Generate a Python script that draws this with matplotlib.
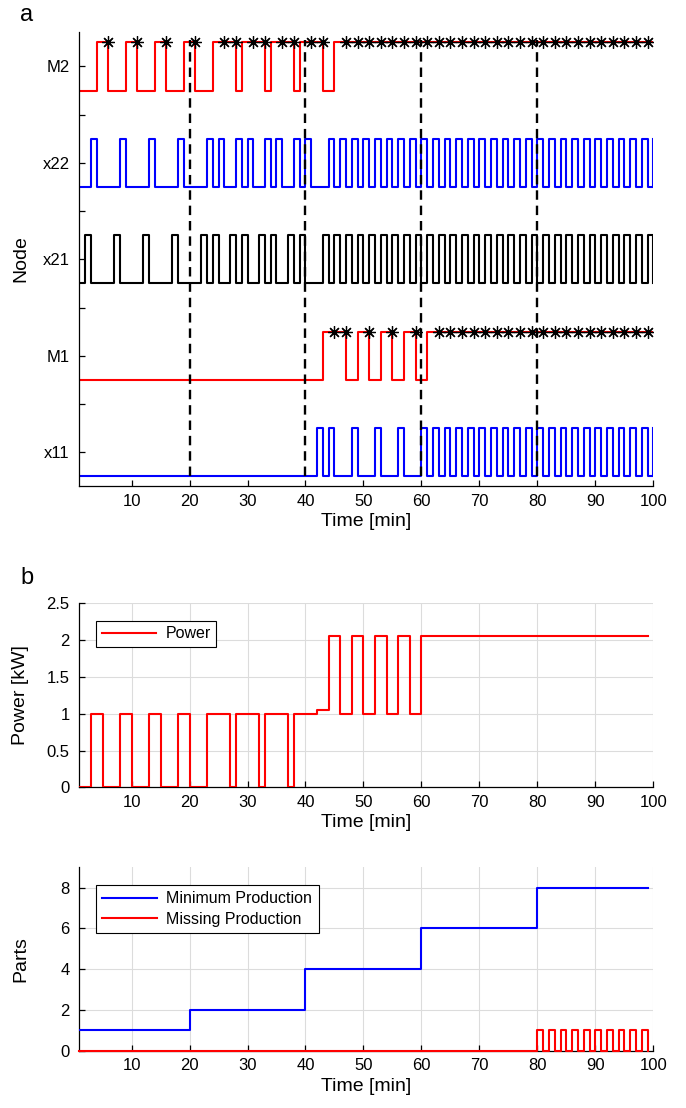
import matplotlib
matplotlib.use('Agg')
import matplotlib.pyplot as plt
import numpy as np

plt.rcParams['font.family'] = ['Liberation Sans', 'DejaVu Sans']

# ---------------- data ----------------
t_nodes = list(range(1, 101))
node_labels = ['x11', 'M1', 'x21', 'x22', 'M2']
node_colors = ['#0000ff', '#ff0000', '#000000', '#0000ff', '#ff0000']

x11_on = [(42, 43), (44, 45), (48, 49), (52, 53), (56, 57), (60, 61), (62, 63), (64, 65),
          (66, 67), (68, 69), (70, 71), (72, 73), (74, 75), (76, 77), (78, 79), (80, 81),
          (82, 83), (84, 85), (86, 87), (88, 89), (90, 91), (92, 93), (94, 95), (96, 97),
          (98, 99), (100, 101)]
M1_on = [(43, 47), (49, 51), (53, 55), (57, 59), (61, 101)]
M1_done = [45, 47, 51, 55, 59, 63, 65, 67, 69, 71, 73, 75, 77, 79, 81, 83, 85, 87, 89,
           91, 93, 95, 97, 99]
x21_on = [(2, 3), (7, 8), (12, 13), (17, 18), (22, 23), (24, 25), (27, 28), (29, 30),
          (32, 33), (34, 35), (37, 38), (39, 40), (43, 44), (45, 46), (47, 48), (49, 50),
          (51, 52), (53, 54), (55, 56), (57, 58), (59, 60), (61, 62), (63, 64), (65, 66),
          (67, 68), (69, 70), (71, 72), (73, 74), (75, 76), (77, 78), (79, 80), (81, 82),
          (83, 84), (85, 86), (87, 88), (89, 90), (91, 92), (93, 94), (95, 96), (97, 98),
          (99, 100)]
x22_on = [(3, 4), (8, 9), (13, 14), (18, 19), (23, 24), (25, 26), (28, 29), (30, 31),
          (33, 34), (35, 36), (38, 39), (40, 41), (44, 45), (46, 47), (48, 49), (50, 51),
          (52, 53), (54, 55), (56, 57), (58, 59), (60, 61), (62, 63), (64, 65), (66, 67),
          (68, 69), (70, 71), (72, 73), (74, 75), (76, 77), (78, 79), (80, 81), (82, 83),
          (84, 85), (86, 87), (88, 89), (90, 91), (92, 93), (94, 95), (96, 97), (98, 99),
          (100, 101)]
M2_on = [(4, 6), (9, 11), (14, 16), (19, 21), (24, 28), (29, 33), (34, 38), (39, 43), (45, 101)]
M2_done = [6, 11, 16, 21, 26, 28, 31, 33, 36, 38, 41, 43, 47, 49, 51, 53, 55, 57, 59, 61,
           63, 65, 67, 69, 71, 73, 75, 77, 79, 81, 83, 85, 87, 89, 91, 93, 95, 97, 99]
period_marks = [20, 40, 60, 80]

t_plant = list(range(1, 100))
power_levels = [(3, 5, 1.0), (8, 10, 1.0), (13, 15, 1.0), (18, 20, 1.0), (23, 27, 1.0),
                (28, 32, 1.0), (33, 37, 1.0), (38, 42, 1.0), (42, 44, 1.05), (44, 46, 2.05),
                (46, 48, 1.0), (48, 50, 2.05), (50, 52, 1.0), (52, 54, 2.05), (54, 56, 1.0),
                (56, 58, 2.05), (58, 60, 1.0), (60, 100, 2.05)]
min_prod_levels = [(1, 20, 1), (20, 40, 2), (40, 60, 4), (60, 80, 6), (80, 100, 8)]
missing_on = [(80, 81), (82, 83), (84, 85), (86, 87), (88, 89), (90, 91), (92, 93),
              (94, 95), (96, 97), (98, 99)]

x_ticks = [10, 20, 30, 40, 50, 60, 70, 80, 90, 100]
power_ticks = [0, 0.5, 1, 1.5, 2, 2.5]
parts_ticks = [0, 2, 4, 6, 8]


def build(t, segments):
    t = np.asarray(t, dtype=float)
    y = np.zeros_like(t)
    for seg in segments:
        a, b = seg[0], seg[1]
        v = seg[2] if len(seg) > 2 else 1.0
        y[(t >= a) & (t < b)] = v
    return y


# ---------------- figure ----------------
fig = plt.figure(figsize=(6.86, 11.08), dpi=100)
L, W = 0.1157, 0.8367
ax1 = fig.add_axes([L, 0.5614, W, 0.41])
ax2 = fig.add_axes([L, 0.2894, W, 0.1661])
ax3 = fig.add_axes([L, 0.0517, W, 0.1655])

TICK_FS = 12
LAB_FS = 14
LEG_FS = 11.5
LW = 1.5

for ax in (ax1, ax2, ax3):
    for s in ('top', 'right'):
        ax.spines[s].set_visible(False)
    for s in ('left', 'bottom'):
        ax.spines[s].set_linewidth(0.9)
    ax.tick_params(direction='in', length=4.5, width=0.9, labelsize=TICK_FS)
    ax.tick_params(axis='x', pad=5.5)
    ax.tick_params(axis='y', pad=7)
    ax.set_xlim(1, 100)
    ax.set_xticks(x_ticks)
    ax.set_xlabel('Time [min]', fontsize=LAB_FS, labelpad=3)

# ---- panel a ----
signals = [x11_on, M1_on, x21_on, x22_on, M2_on]
for i, (sig, col) in enumerate(zip(signals, node_colors)):
    row = i + 1
    y = row - 0.25 + 0.5 * build(t_nodes, sig)
    ax1.step(t_nodes, y, where='post', color=col, lw=LW, zorder=2)

ax1.plot(M1_done, [2.25] * len(M1_done), linestyle='none', marker=(8, 2, 0),
         markersize=9, color='k', markeredgewidth=0.9, zorder=4)
ax1.plot(M2_done, [5.25] * len(M2_done), linestyle='none', marker=(8, 2, 0),
         markersize=9, color='k', markeredgewidth=0.9, zorder=4)
ax1.vlines(period_marks, 0.75, 5.27, colors='k', linestyles=(0, (4, 2.5)), lw=1.7, zorder=3)

ax1.set_ylim(0.65, 5.36)
yt = [1 + 0.5 * k for k in range(9)]
ax1.set_yticks(yt)
ax1.set_yticklabels([node_labels[k // 2] if k % 2 == 0 else '' for k in range(9)])
ax1.set_ylabel('Node', fontsize=LAB_FS)

# ---- panel b ----
ax2.grid(True, color='#dcdcdc', lw=0.8)
ax2.set_axisbelow(True)
ax2.step(t_plant, build(t_plant, power_levels), where='post', color='#ff0000', lw=LW,
         label='Power', zorder=3)
ax2.set_ylim(0, 2.5)
ax2.set_yticks(power_ticks)
ax2.set_yticklabels(['0', '0.5', '1', '1.5', '2', '2.5'])
ax2.set_ylabel('Power [kW]', fontsize=LAB_FS)
leg = ax2.legend(loc='upper left', bbox_to_anchor=(0.029, 0.905), borderaxespad=0,
                 fontsize=LEG_FS, handlelength=3.4, fancybox=False, framealpha=1,
                 edgecolor='k', borderpad=0.35, handletextpad=0.6)
leg.get_frame().set_linewidth(0.8)

# ---- panel c ----
ax3.grid(True, color='#dcdcdc', lw=0.8)
ax3.set_axisbelow(True)
ax3.step(t_plant, build(t_plant, min_prod_levels), where='post', color='#0000ff', lw=LW,
         label='Minimum Production', zorder=3)
ax3.step(t_plant, build(t_plant, missing_on), where='post', color='#ff0000', lw=LW,
         label='Missing Production', zorder=4, clip_on=False)
ax3.set_ylim(0, 9)
ax3.set_yticks(parts_ticks)
ax3.set_ylabel('Parts', fontsize=LAB_FS)
leg3 = ax3.legend(loc='upper left', bbox_to_anchor=(0.029, 0.9035), borderaxespad=0,
                  fontsize=LEG_FS, handlelength=3.4, fancybox=False, framealpha=1,
                  edgecolor='k', borderpad=0.4, handletextpad=0.6, labelspacing=0.35)
leg3.get_frame().set_linewidth(0.8)

for ax in (ax1, ax2, ax3):
    ax.yaxis.set_label_coords(-0.087, 0.5)

fig.text(20 / 686, 1 - 15 / 1108, 'a', fontsize=17, ha='left', va='center')
fig.text(20 / 686, 1 - 578 / 1108, 'b', fontsize=17, ha='left', va='center')

fig.savefig('out.png', dpi=100)
